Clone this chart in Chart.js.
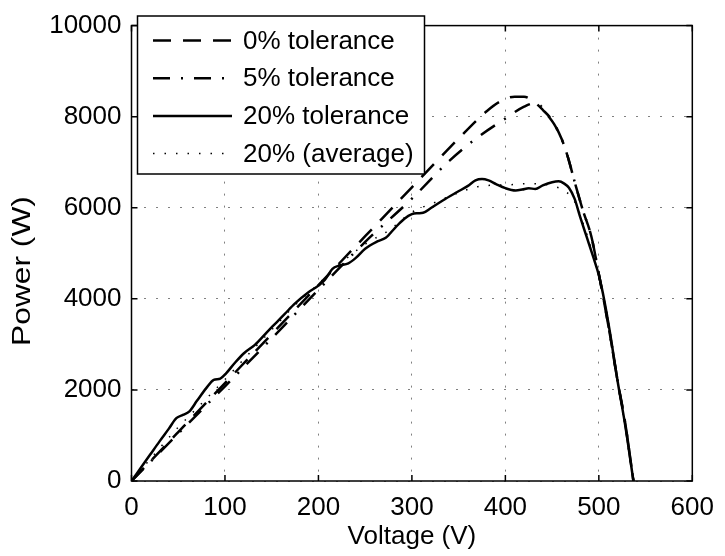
<!DOCTYPE html>
<html>
<head>
<meta charset="utf-8">
<script src="https://cdn.jsdelivr.net/npm/chart.js@4.4.0/dist/chart.umd.min.js"></script>
<style>
    html, body { margin: 0; padding: 0; background: #fff; }
    #wrap { width: 725px; height: 556px; }
</style>
</head>
<body>
<div id="wrap"><canvas id="pv_chart"></canvas></div>
<script>
// ticks
var voltageTicks = [0, 100, 200, 300, 400, 500, 600];
var powerTicks = [0, 2000, 4000, 6000, 8000, 10000];

var seriesNames = ["0% tolerance", "5% tolerance", "20% tolerance", "20% (average)"];

// 0% tolerance
var volt0 = [0, 50, 100, 150, 200, 250, 300, 350, 380, 395, 410, 420, 430, 440, 450, 460, 466, 476, 483, 492, 499, 505, 512, 520, 528, 537];
var pow0 = [0, 1075, 2150, 3225, 4300, 5375, 6450, 7520, 8120, 8340, 8440, 8440, 8340, 8150, 7920, 7520, 7170, 6430, 5940, 5370, 4650, 4000, 3200, 2200, 1300, 0];

// 5% tolerance
var volt5 = [0, 50, 100, 150, 200, 250, 300, 340, 370, 400, 420, 430, 437, 445, 452, 460, 466, 476, 483, 492, 499, 505, 512, 520, 528, 537];
var pow5 = [0, 1040, 2080, 3130, 4200, 5250, 6200, 7030, 7540, 7960, 8220, 8290, 8250, 8040, 7840, 7520, 7170, 6430, 5940, 5370, 4650, 4000, 3200, 2200, 1300, 0];

// 20% tolerance
var volt20 = [0, 10, 20, 30, 40, 48, 55, 62, 70, 80, 88, 95, 101, 110, 120, 132, 145, 155, 164, 175, 189, 200, 207, 215, 222, 232, 240, 250, 263, 272, 282, 292, 300, 306, 312, 320, 333, 348, 360, 368, 375, 382, 390, 400, 411, 418, 425, 432, 440, 450, 457, 463, 468, 474, 480, 487, 494, 500, 506, 512, 520, 528, 537];
var pow20 = [0, 290, 580, 870, 1150, 1380, 1450, 1530, 1760, 2040, 2220, 2250, 2360, 2580, 2800, 2990, 3270, 3480, 3670, 3900, 4140, 4290, 4420, 4660, 4730, 4780, 4900, 5100, 5260, 5340, 5560, 5760, 5860, 5880, 5890, 5990, 6160, 6340, 6480, 6600, 6630, 6600, 6520, 6430, 6380, 6400, 6430, 6410, 6490, 6560, 6580, 6530, 6440, 6200, 5800, 5360, 4920, 4520, 3950, 3250, 2200, 1250, 0];

// 20% (average)
var voltAvg = [0, 25, 50, 75, 100, 125, 150, 175, 200, 225, 250, 275, 300, 325, 350, 375, 400, 425, 450, 465, 475, 485, 495, 505, 515, 525, 537];
var powAvg = [0, 600, 1180, 1700, 2230, 2780, 3320, 3860, 4330, 4800, 5200, 5500, 5900, 6120, 6330, 6480, 6500, 6530, 6480, 6350, 6100, 5550, 4900, 4050, 2900, 1600, 0];

var FONT = '"Liberation Sans", Arial, Helvetica, sans-serif';

function toPoints(vs, ps) {
    return vs.map(function (v, i) { return { x: v, y: ps[i] }; });
}

function lineSet(name, vs, ps, dash, width) {
    return {
        label: name,
        data: toPoints(vs, ps),
        showLine: true,
        borderColor: '#000',
        backgroundColor: '#000',
        borderWidth: width,
        borderDash: dash,
        borderCapStyle: 'butt',
        pointRadius: 0,
        cubicInterpolationMode: 'monotone',
        fill: false
    };
}

//box, inner tick marks, ylabel and legend like matlab
var framePlugin = {
    id: 'frame',
    afterDatasetsDraw: function (chart) {
        var ctx = chart.ctx;
        var a = chart.chartArea;
        var sx = chart.scales.x, sy = chart.scales.y;
        ctx.save();
        ctx.setLineDash([]);
        ctx.strokeStyle = '#000';
        ctx.lineWidth = 1.5;
        ctx.strokeRect(a.left, a.top, a.right - a.left, a.bottom - a.top);
        ctx.beginPath();
        voltageTicks.forEach(function (v) {
            var px = sx.getPixelForValue(v);
            ctx.moveTo(px, a.bottom); ctx.lineTo(px, a.bottom - 6);
            ctx.moveTo(px, a.top); ctx.lineTo(px, a.top + 6);
        });
        powerTicks.forEach(function (p) {
            var py = sy.getPixelForValue(p);
            ctx.moveTo(a.left, py); ctx.lineTo(a.left + 6, py);
            ctx.moveTo(a.right, py); ctx.lineTo(a.right - 6, py);
        });
        ctx.stroke();

        // ylabel (stretched a bit, like the original)
        ctx.save();
        ctx.translate(23, 271);
        ctx.rotate(-Math.PI / 2);
        ctx.scale(1.22, 1);
        ctx.font = '26px ' + FONT;
        ctx.fillStyle = '#000';
        ctx.textAlign = 'center';
        ctx.textBaseline = 'middle';
        ctx.fillText('Power (W)', 0, 0);
        ctx.restore();

        // legend
        var bx = 137.5, by = 16, bw = 287, bh = 158;
        ctx.fillStyle = '#fff';
        ctx.fillRect(bx, by, bw, bh);
        ctx.lineWidth = 1.5;
        ctx.strokeRect(bx, by, bw, bh);
        ctx.font = '26px ' + FONT;
        ctx.textBaseline = 'middle';
        ctx.textAlign = 'left';
        chart.data.datasets.forEach(function (ds, i) {
            var ly = 40.5 + i * 37.7;
            ctx.beginPath();
            ctx.lineWidth = ds.borderWidth;
            ctx.setLineDash(ds.borderDash || []);
            ctx.moveTo(153, ly);
            ctx.lineTo(232, ly);
            ctx.stroke();
            ctx.setLineDash([]);
            ctx.fillStyle = '#000';
            ctx.fillText(ds.label, 243, ly + 1);
        });
        ctx.restore();
    }
};

new Chart(document.getElementById('pv_chart').getContext('2d'), {
    type: 'scatter',
    data: {
        datasets: [
            lineSet(seriesNames[0], volt0, pow0, [18, 12], 2.5),
            lineSet(seriesNames[1], volt5, pow5, [17, 11, 2, 11], 2.5),
            lineSet(seriesNames[2], volt20, pow20, [], 2.5),
            lineSet(seriesNames[3], voltAvg, powAvg, [1.5, 10], 1.5)
        ]
    },
    options: {
        responsive: true,
        maintainAspectRatio: false,
        animation: false,
        layout: { padding: { left: 0, top: 19.5, right: 26.5, bottom: 0 } },
        plugins: {
            legend: { display: false },
            tooltip: { enabled: false }
        },
        scales: {
            x: {
                type: 'linear',
                min: 0,
                max: 600,
                afterBuildTicks: function (s) { s.ticks = voltageTicks.map(function (v) { return { value: v }; }); },
                afterFit: function (s) { s.height = 75; },
                ticks: { color: '#000', font: { family: FONT, size: 26 }, padding: 11, maxRotation: 0,
                    callback: function (v) { return String(v); } },
                grid: { color: '#808080', lineWidth: 1, drawTicks: false },
                border: { display: false, dash: [2, 10] },
                title: { display: true, text: 'Voltage (V)', color: '#000', font: { family: FONT, size: 26 }, padding: { top: 0, bottom: 4 } }
            },
            y: {
                type: 'linear',
                min: 0,
                max: 10000,
                afterBuildTicks: function (s) { s.ticks = powerTicks.map(function (v) { return { value: v }; }); },
                afterFit: function (s) { s.width = 131.5; },
                ticks: { color: '#000', font: { family: FONT, size: 26 }, padding: 10,
                    callback: function (v) { return String(v); } },
                grid: { color: '#808080', lineWidth: 1, drawTicks: false },
                border: { display: false, dash: [2, 10] },
                title: { display: false }
            }
        }
    },
    plugins: [framePlugin]
});
</script>
</body>
</html>
